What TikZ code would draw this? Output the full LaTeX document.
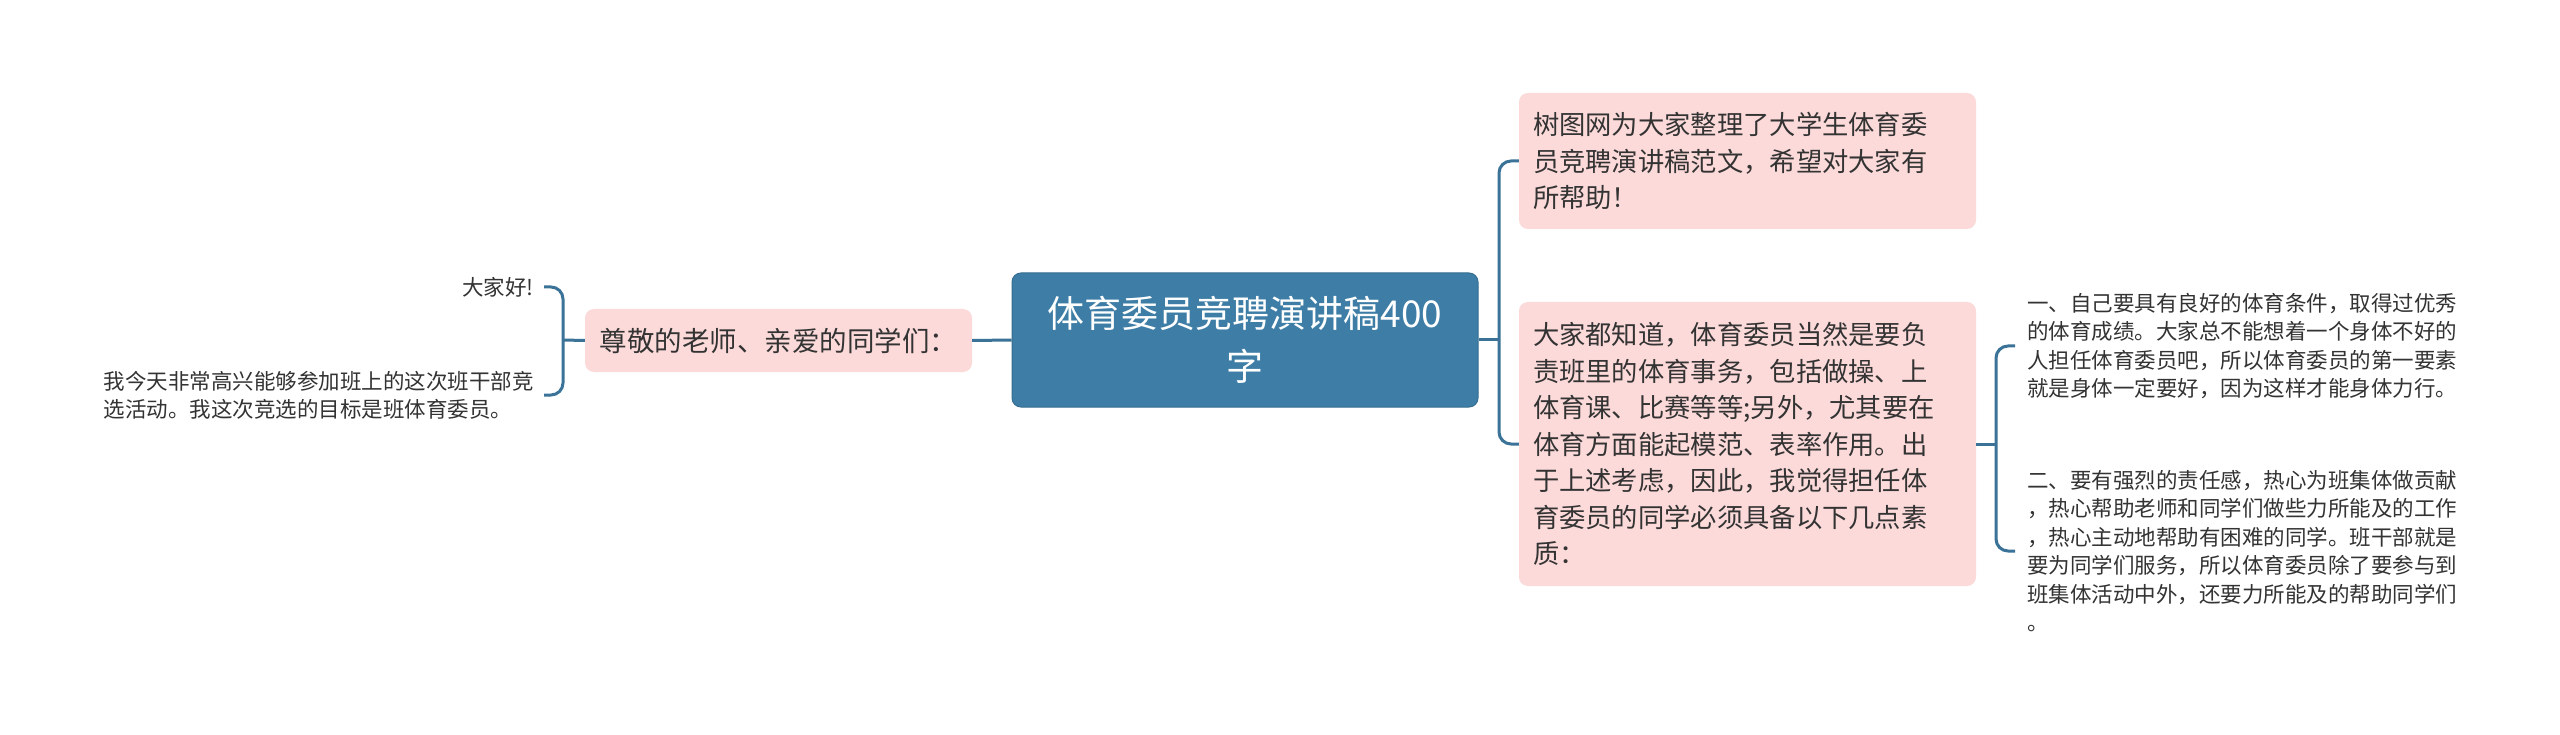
\documentclass[tikz,border=0pt]{standalone}
\usepackage{fontspec}
\newfontfamily\cjk{Noto Sans CJK SC}
\definecolor{lineblue}{HTML}{3B7398}
\definecolor{cfill}{HTML}{3E7EA6}
\definecolor{cdraw}{HTML}{356D90}
\definecolor{pinkfill}{HTML}{FCDADA}
\definecolor{txt}{HTML}{333333}
\begin{document}
\begin{tikzpicture}[x=1pt,y=-1pt,
 conn/.style={draw=lineblue,line width=3pt,rounded corners=12pt},
 central/.style={fill=cfill,draw=cdraw,line width=1pt,rounded corners=9pt,text=white,align=center,font={\cjk\fontsize{37}{53}\selectfont},minimum width=466pt,minimum height=134pt,inner sep=0pt},
 topic/.style={fill=pinkfill,rounded corners=9pt,text=txt,font={\cjk\fontsize{26.3}{36.5}\selectfont}},
 leaf/.style={text=txt,align=left,font={\cjk\fontsize{21.5}{28.4}\selectfont},inner xsep=10pt,inner ysep=4pt}]
\fill[white] (0,0) rectangle (2560,735);
\useasboundingbox (0,0) rectangle (2560,735);
\node[central] (C) at (1245,340) {体育委员竞聘演讲稿400\\字};
\node[topic,minimum width=387pt,minimum height=63pt,inner sep=0pt,font={\cjk\fontsize{27.5}{36.5}\selectfont}] (L) at (778.5,340.5) {尊敬的老师、亲爱的同学们：};
\node[topic,minimum width=457pt,minimum height=136pt,text width=429pt,align=left,inner xsep=14pt,inner ysep=0pt] (R1) at (1747.5,161) {树图网为大家整理了大学生体育委\\员竞聘演讲稿范文，希望对大家有\\所帮助！};
\node[topic,minimum width=457pt,minimum height=284pt,text width=429pt,align=left,inner xsep=14pt,inner ysep=0pt] (R2) at (1747.5,444) {大家都知道，体育委员当然是要负\\责班里的体育事务，包括做操、上\\体育课、比赛等等;另外，尤其要在\\体育方面能起模范、表率作用。出\\于上述考虑，因此，我觉得担任体\\育委员的同学必须具备以下几点素\\质：};
\node[leaf,anchor=east] (A1) at (544,287) {大家好!};
\node[leaf,anchor=east] (A2) at (544,395) {我今天非常高兴能够参加班上的这次班干部竞\\选活动。我这次竞选的目标是班体育委员。};
\node[leaf,anchor=west,inner xsep=12pt] (B1) at (2015,346) {一、自己要具有良好的体育条件，取得过优秀\\的体育成绩。大家总不能想着一个身体不好的\\人担任体育委员吧，所以体育委员的第一要素\\就是身体一定要好，因为这样才能身体力行。};
\node[leaf,anchor=west,inner xsep=12pt] (B2) at (2015,551) {二、要有强烈的责任感，热心为班集体做贡献\\，热心帮助老师和同学们做些力所能及的工作\\，热心主动地帮助有困难的同学。班干部就是\\要为同学们服务，所以体育委员除了要参与到\\班集体活动中外，还要力所能及的帮助同学们\\。};
\coordinate (jL) at (563,340);
\coordinate (jR) at (1499,340);
\coordinate (jR2) at (1996,444);
\draw[conn] (C.west) -- (L.east);
\draw[conn] (L.west) -- (jL);
\draw[conn] (jL) |- (A1.east);
\draw[conn] (jL) |- (A2.east);
\draw[conn] (C.east) -- (jR);
\draw[conn] (jR) |- (R1.west);
\draw[conn] (jR) |- (R2.west);
\draw[conn] (R2.east) -- (jR2);
\draw[conn] (jR2) |- (B1.west);
\draw[conn] (jR2) |- (B2.west);
\end{tikzpicture}
\end{document}
